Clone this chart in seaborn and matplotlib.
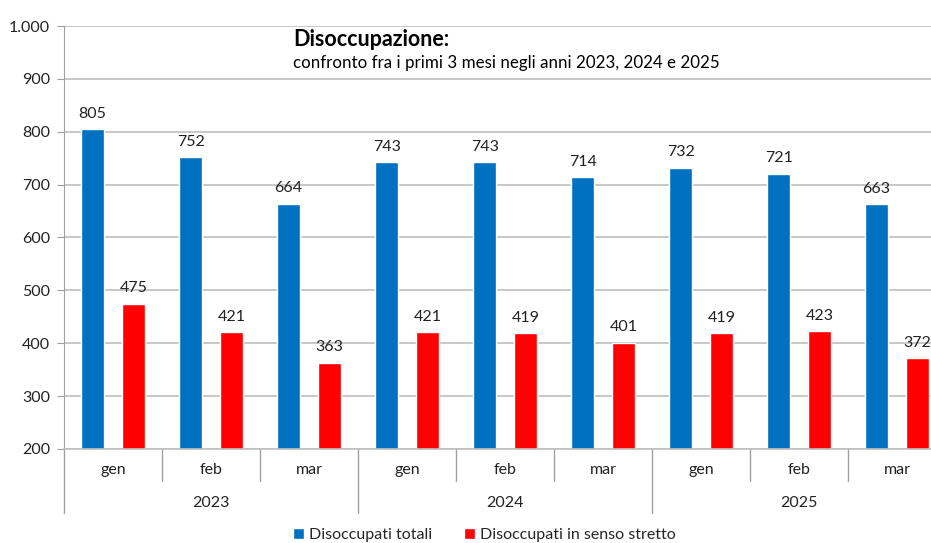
import pandas as pd
import seaborn as sns
import matplotlib.pyplot as plt
from matplotlib.patches import Patch

mesi = ['gen', 'feb', 'mar']
anni = ['2023', '2024', '2025']
totali = [805, 752, 664, 743, 743, 714, 732, 721, 663]
stretto = [475, 421, 363, 421, 419, 401, 419, 423, 372]
serie = ['Disoccupati totali', 'Disoccupati in senso stretto']
colori = ['#0070C0', '#FF0000']

cats = [m + ' ' + a for a in anni for m in mesi]
df = pd.DataFrame({
    'periodo': cats * 2,
    'serie': [serie[0]] * len(cats) + [serie[1]] * len(cats),
    'valore': totali + stretto,
})

sns.set_style('white')
plt.rcParams['font.family'] = ['Lato', 'DejaVu Sans']
fs = 11.5

fig = plt.figure(figsize=(9.31, 5.43), dpi=100)
ax = fig.add_axes([64 / 931, 1 - 449 / 543, 882 / 931, 423 / 543])

sns.barplot(data=df, x='periodo', y='valore', hue='serie', order=cats,
            hue_order=serie, palette=colori, width=0.832, gap=0.43,
            saturation=1, legend=False, ax=ax)

for cont in ax.containers:
    ax.bar_label(cont, padding=6, fontsize=fs, color='#222222')

ax.set_ylim(200, 1000)
ax.set_xlim(-0.5, len(cats) - 0.5)
ax.set_yticks(range(200, 1001, 100))
ax.set_yticklabels(['{:,}'.format(v).replace(',', '.') for v in range(200, 1001, 100)],
                   fontsize=fs, color='#222222')
ax.yaxis.grid(True, color='#BFBFBF', linewidth=1.2)
ax.set_axisbelow(True)
ax.tick_params(axis='y', length=5, color='#A0A0A0', left=True, pad=5)
ax.set_xticks(range(len(cats)))
ax.set_xticklabels([])
ax.tick_params(axis='x', length=0)
ax.set_xlabel('')
ax.set_ylabel('')
for s in ['top', 'right']:
    ax.spines[s].set_visible(False)
ax.spines['left'].set_color('#A0A0A0')
ax.spines['bottom'].set_color('#BFBFBF')
ax.spines['bottom'].set_linewidth(1.2)

# etichette su due livelli
tr = ax.get_xaxis_transform()
h_mese = -32 / 423
h_anno = -64 / 423
for i, c in enumerate(cats):
    ax.text(i, -21 / 423, c.split()[0], transform=tr, ha='center', va='center',
            fontsize=fs, color='#222222')
for j, a in enumerate(anni):
    ax.text(j * 3 + 1, -54 / 423, a, transform=tr, ha='center', va='center',
            fontsize=fs, color='#222222')
for k in range(len(cats) + 1):
    x = k - 0.5
    y1 = h_anno if k % 3 == 0 else h_mese
    ax.plot([x, x], [0, y1], transform=tr, color='#A0A0A0', lw=1, clip_on=False)

ax.text(293 / 931, 1 - 40 / 543, 'Disoccupazione:', transform=fig.transFigure,
        fontsize=15.5, fontweight='bold', va='center', ha='left', color='black')
ax.text(293 / 931, 1 - 63 / 543, 'confronto fra i primi 3 mesi negli anni 2023, 2024 e 2025',
        transform=fig.transFigure, fontsize=12.2, va='center', ha='left', color='black')

handles = [Patch(facecolor=c, label=s) for c, s in zip(colori, serie)]
fig.legend(handles=handles, loc='center', bbox_to_anchor=(484 / 931, 1 - 535 / 543),
           ncol=2, frameon=False, fontsize=fs, handlelength=0.7, handleheight=0.7,
           handletextpad=0.3, columnspacing=2.0)

fig.savefig('out.png', dpi=100)
